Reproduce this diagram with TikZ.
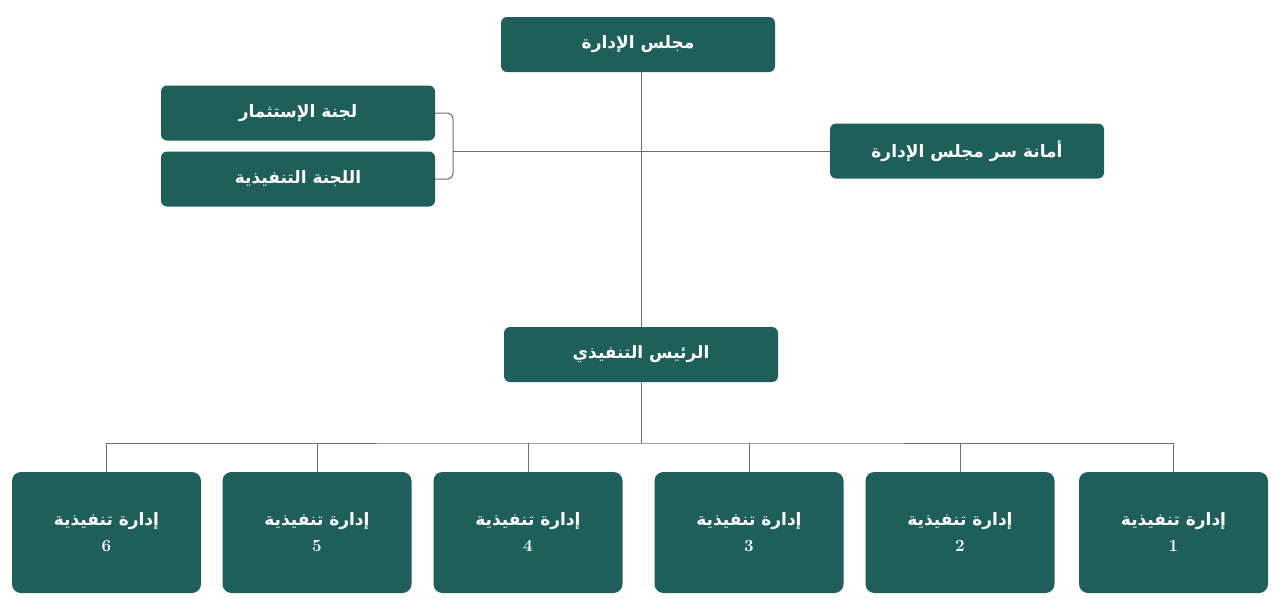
\documentclass[tikz,border=0pt]{standalone}
\usepackage{fontspec}
\newfontfamily\arabicfont[Script=Arabic]{DejaVu Sans}
\TeXXeTstate=1
\usetikzlibrary{positioning}
\definecolor{boxgreen}{HTML}{1E5F5A}
\definecolor{linegray}{HTML}{6E6E6E}
\newcommand{\ar}[1]{\arabicfont\bfseries\beginR #1\endR}

\begin{document}
\begin{tikzpicture}[x=1pt,y=-1pt,
    unit/.style={fill=boxgreen, text=white, rounded corners=6pt, minimum width=274pt, minimum height=55pt, font=\fontsize{17}{20}\selectfont},
    dept/.style={fill=boxgreen, text=white, rounded corners=9pt, minimum width=189pt, minimum height=121pt, align=center, font=\fontsize{17}{26}\selectfont},
    link/.style={draw=linegray, line width=1pt}]
  \useasboundingbox (0,0) rectangle (1280,611);
  % upper part
  \node[unit] (board) at (638,44.5) {\ar{مجلس الإدارة}};
  \node[unit] (invest) at (298,113) {\ar{لجنة الإستثمار}};
  \node[unit] (execcom) at (298,179) {\ar{اللجنة التنفيذية}};
  \node[unit] (secr) at (967,151) {\ar{أمانة سر مجلس الإدارة}};
  \node[unit] (ceo) at (641,354.5) {\ar{الرئيس التنفيذي}};
  % departments
  \foreach \n/\x in {1/1173.5, 2/960, 3/749, 4/528, 5/317, 6/106.5}
    \node[dept] (dept\n) at (\x,532.5) {\ar{إدارة تنفيذية}\\ \textbf{\n}};
  % connectors
  \coordinate (mid) at (641,151);
  \coordinate (brk) at (453,151);
  \coordinate (bus) at (641,443);
  \draw[link] (board.south -| mid) -- (ceo.north);
  \draw[link] (brk) -- (secr.west);
  \draw[link, rounded corners=6pt] (invest.east) -| (brk) |- (execcom.east);
  \draw[link] (ceo.south) -- (bus);
  \draw[link] (dept6.north) |- (bus) -| (dept1.north);
  \foreach \n in {2,3,4,5}
    \draw[link] (dept\n.north) -- (dept\n.north |- bus);
\end{tikzpicture}
\end{document}
